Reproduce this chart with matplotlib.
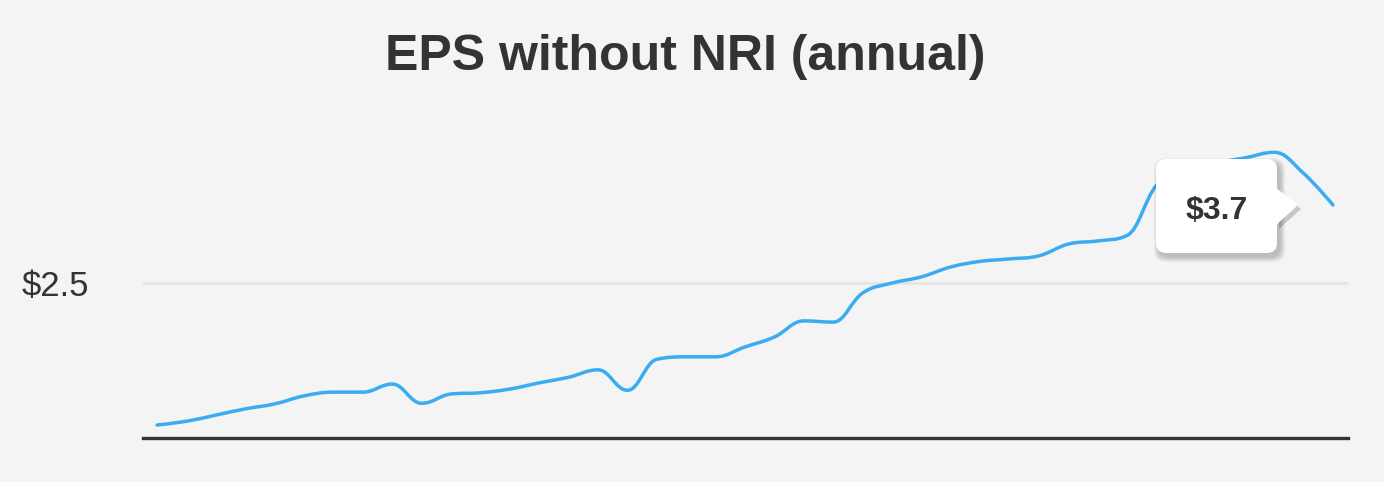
import numpy as np
import matplotlib
matplotlib.use("Agg")
import matplotlib.pyplot as plt
from matplotlib.patches import FancyBboxPatch, Polygon, PathPatch
from matplotlib.path import Path
from matplotlib.transforms import IdentityTransform

# annual EPS without NRI
eps = [0.21, 0.27, 0.37, 0.47, 0.55, 0.68, 0.74, 0.74, 0.87, 0.56,
       0.71, 0.73, 0.79, 0.89, 0.98, 1.10, 0.77, 1.27, 1.31, 1.31,
       1.47, 1.63, 1.89, 1.87, 2.34, 2.50, 2.60, 2.76, 2.85, 2.89,
       2.94, 3.13, 3.18, 3.27, 4.08, 4.35, 4.44, 4.52, 4.61, 4.27,
       3.76]
ytick_vals = [2.5]
ytick_labels = ["$2.5"]
title = "EPS without NRI (annual)"
tooltip = "$3.7"

BG = "#f4f4f4"
DARK = "#333333"
LINE = "#3aacf2"

plt.rcParams["font.family"] = ["Liberation Sans", "DejaVu Sans"]


def spline_path(xs, ys, smooth=1.5):
    # spline drawing like the web chart: bezier handles from neighbours
    n = len(xs)
    verts = [(xs[0], ys[0])]
    codes = [Path.MOVETO]
    lc = [(xs[i], ys[i]) for i in range(n)]
    rc = [(xs[i], ys[i]) for i in range(n)]
    d = smooth + 1
    for i in range(1, n - 1):
        x, y = xs[i], ys[i]
        px, py = xs[i - 1], ys[i - 1]
        nx, ny = xs[i + 1], ys[i + 1]
        lx, ly = (smooth * x + px) / d, (smooth * y + py) / d
        rx, ry = (smooth * x + nx) / d, (smooth * y + ny) / d
        if rx != lx:
            corr = (ry - ly) * (rx - x) / (rx - lx) + y - ry
            ly += corr
            ry += corr
        if ly > py and ly > y:
            ly = max(py, y)
            ry = 2 * y - ly
        elif ly < py and ly < y:
            ly = min(py, y)
            ry = 2 * y - ly
        if ry > ny and ry > y:
            ry = max(ny, y)
            ly = 2 * y - ry
        elif ry < ny and ry < y:
            ry = min(ny, y)
            ly = 2 * y - ry
        lc[i] = (lx, ly)
        rc[i] = (rx, ry)
    for i in range(1, n):
        verts += [rc[i - 1], lc[i], (xs[i], ys[i])]
        codes += [Path.CURVE4] * 3
    return Path(verts, codes)


W, H = 1384, 482
fig = plt.figure(figsize=(W / 100, H / 100), dpi=100, facecolor=BG)
ax = fig.add_axes([143 / W, (H - 438) / H, (1348 - 143) / W, (438 - 130) / H])
ax.set_facecolor(BG)

x = np.arange(len(eps))
ax.add_patch(PathPatch(spline_path(list(x), eps), fc="none", ec=LINE,
                       lw=2.5, joinstyle="round", capstyle="round", zorder=3))

ax.set_xlim(-0.48, len(eps) - 1 + 0.51)
ax.set_ylim(0, 4.97)
ax.set_xticks([])
ax.set_yticks(ytick_vals)
ax.set_yticklabels(ytick_labels, fontsize=25, color=DARK)
ax.tick_params(axis="y", length=0, pad=39)
ax.grid(axis="y", color="#e4e4e4", lw=1.8)
ax.set_axisbelow(True)
for s in ax.spines.values():
    s.set_visible(False)
ax.axhline(0, color=DARK, lw=2.4, zorder=4, clip_on=False)

fig.text(0.495, 1 - 70 / H, title, ha="center", va="baseline",
         fontsize=36, fontweight="bold", color=DARK)

# tooltip anchored to the last point
px, py = ax.transData.transform((x[-1], eps[-1]))
bx0, bx1 = px - 177, px - 56
by0, by1 = py - 48, py + 46
tip = [(bx1 - 1, py + 17), (px - 35, py), (bx1 - 1, py - 20)]
ident = IdentityTransform()

for i in range(6):
    g = 1 + i * 1.8
    sh = FancyBboxPatch((bx0 + 3 - g / 2, by0 - 4 - g / 2),
                        bx1 - bx0 + g, by1 - by0 + g,
                        boxstyle="round,pad=0,rounding_size=12",
                        transform=ident, fc="black", ec="none", alpha=0.04,
                        zorder=8, clip_on=False)
    ax.add_artist(sh)
    shp = Polygon([(tx + 3, ty - 4) for tx, ty in tip], closed=True,
                  transform=ident, fc="black", ec="none", alpha=0.03,
                  zorder=8, clip_on=False)
    ax.add_artist(shp)

box = FancyBboxPatch((bx0, by0), bx1 - bx0, by1 - by0,
                     boxstyle="round,pad=0,rounding_size=10",
                     transform=ident, fc="white", ec="none", zorder=9,
                     clip_on=False)
ax.add_artist(box)
arrow = Polygon(tip, closed=True, transform=ident, fc="white", ec="none",
                zorder=9, clip_on=False)
ax.add_artist(arrow)
ax.text((bx0 + bx1) / 2, py - 6, tooltip, transform=ident, ha="center",
        va="center", fontsize=23, fontweight="bold", color=DARK, zorder=10)

fig.savefig("out.png", dpi=100, facecolor=BG)
